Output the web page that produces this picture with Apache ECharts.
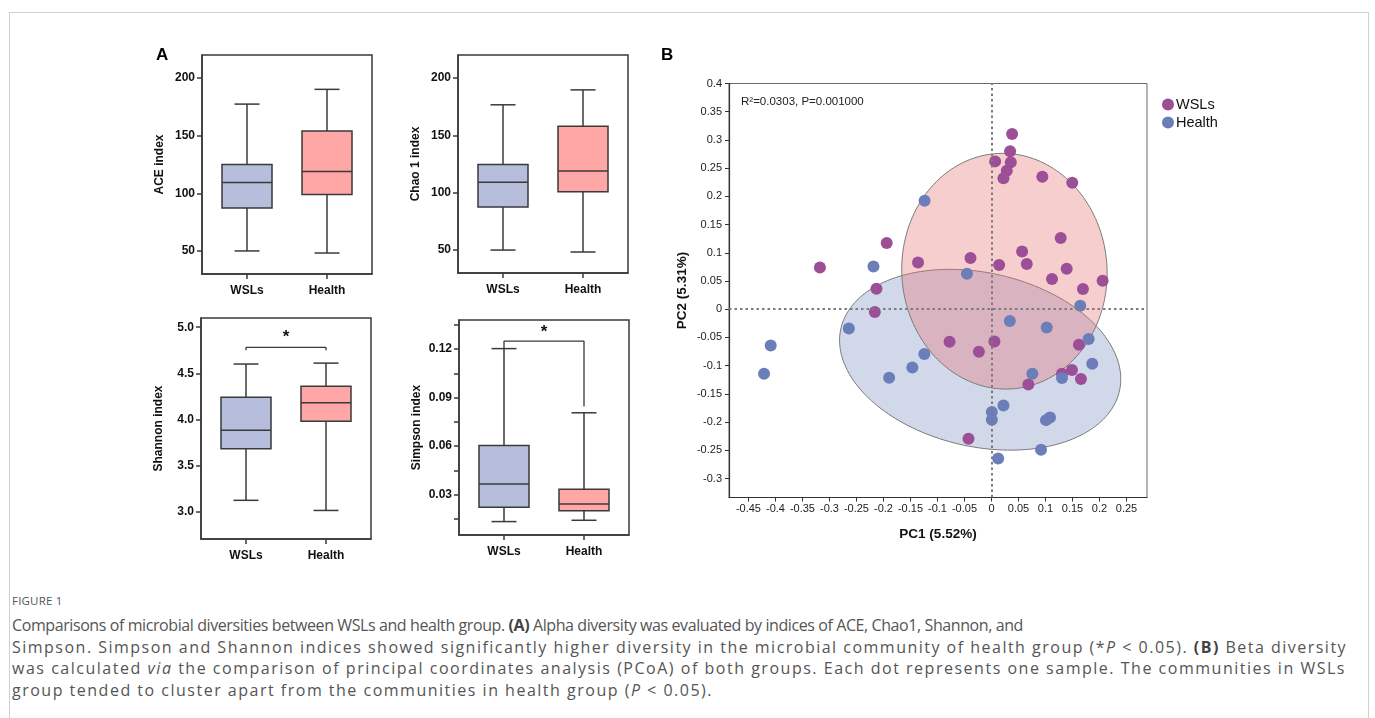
<!DOCTYPE html>
<html><head><meta charset="utf-8">
<script src="https://cdn.jsdelivr.net/npm/echarts@6/dist/echarts.min.js"></script>
<style>
html,body{margin:0;padding:0;background:#fff;width:1375px;height:718px;overflow:hidden;}
#frame{position:absolute;left:9px;top:12px;width:1360px;height:740px;border:1px solid #d0d0d0;box-sizing:border-box;}
#chart{position:absolute;left:0;top:0;width:1375px;height:585px;}
#cap{position:absolute;left:12px;top:592px;width:1360px;font-family:'Open Sans',sans-serif;color:#555;}
#cap .fig{font-size:11.5px;line-height:18px;letter-spacing:0.2px;color:#555;}
#cap .l{font-size:16px;line-height:21.7px;white-space:nowrap;width:max-content;}
#cap b{color:#444;}
</style></head>
<body>
<div id="frame"></div>
<div id="chart"></div>
<div id="cap">
<div class="fig">FIGURE 1</div>
<div style="height:5px"></div>
<div class="l">Comparisons of microbial diversities between WSLs and health group. <b>(A)</b> Alpha diversity was evaluated by indices of ACE, Chao1, Shannon, and</div>
<div class="l">Simpson. Simpson and Shannon indices showed significantly higher diversity in the microbial community of health group (*<i>P</i> &lt; 0.05). <b>(B)</b> Beta diversity</div>
<div class="l">was calculated <i>via</i> the comparison of principal coordinates analysis (PCoA) of both groups. Each dot represents one sample. The communities in WSLs</div>
<div class="l">group tended to cluster apart from the communities in health group (<i>P</i> &lt; 0.05).</div>
</div>
<script>
// ---------- DATA ----------
const groups = ['WSLs', 'Health'];
// [min, Q1, median, Q3, max]
const aceWSLs = [50, 87.3, 109.3, 125, 177.4];
const aceHealth = [48.2, 99, 119, 154, 190.2];
const chaoWSLs = [50, 87.5, 109.2, 124.6, 176.6];
const chaoHealth = [48.3, 100.9, 118.9, 157.8, 189.6];
const shannonWSLs = [3.12, 3.68, 3.88, 4.24, 4.6];
const shannonHealth = [3.01, 3.98, 4.18, 4.36, 4.61];
const simpsonWSLs = [0.0133, 0.0222, 0.0365, 0.0603, 0.1203];
const simpsonHealth = [0.0141, 0.0200, 0.0241, 0.0333, 0.0806];

const countTicks = [50, 100, 150, 200];
const shannonTicks = [3.0, 3.5, 4.0, 4.5, 5.0];
const simpsonTicks = [0.03, 0.06, 0.09, 0.12];
const simpsonMinorTicks = [0.015, 0.03, 0.045, 0.06, 0.075, 0.09, 0.105, 0.12, 0.135];

const shannonBracket = [[0, 4.75], [0, 4.78], [1, 4.78], [1, 4.75]];
const simpsonBracket = [[0, 0.1205], [0, 0.1249], [1, 0.1249], [1, 0.0845]];
const shannonStar = [0.5, 4.89];
const simpsonStar = [0.5, 0.1305];

// PCoA samples [PC1, PC2]
const wslsPoints = [
  [-0.3177, 0.0741], [-0.194, 0.1174], [-0.136, 0.083], [-0.213, 0.0363], [-0.216, -0.005],
  [0.0382, 0.3106], [0.0345, 0.2798], [0.0068, 0.262], [0.0358, 0.2603], [0.0284, 0.2456],
  [0.0222, 0.2319], [0.0942, 0.2349], [0.1496, 0.2243], [0.1282, 0.1262], [0.0567, 0.1025],
  [-0.0388, 0.0907], [0.0142, 0.0783], [0.0654, 0.0801], [0.1393, 0.0718], [0.1121, 0.0535],
  [0.2058, 0.0505], [0.1694, 0.0358], [-0.0776, -0.0576], [0.0055, -0.0571], [-0.0233, -0.0754],
  [0.162, -0.0629], [0.1306, -0.1144], [0.1491, -0.1078], [0.1657, -0.1238], [0.0683, -0.1333],
  [-0.0425, -0.2296]
];
const healthPoints = [
  [-0.1238, 0.1924], [-0.2185, 0.0759], [-0.0454, 0.0629], [0.1644, 0.0062], [0.034, -0.0209],
  [0.1023, -0.0322], [0.1799, -0.0529], [-0.1243, -0.0795], [-0.1465, -0.1031], [0.1866, -0.0966],
  [0.0757, -0.1144], [0.1306, -0.122], [0.0222, -0.1705], [0.0007, -0.1823], [0.0007, -0.1959],
  [0.1084, -0.1918], [0.101, -0.1965], [0.0918, -0.2491], [0.0124, -0.2645], [-0.2641, -0.034],
  [-0.4088, -0.0642], [-0.4211, -0.1144], [-0.1895, -0.1215]
];
// confidence ellipses: [centerX, centerY, radiusX, radiusY, rotationDeg]
const ellipseWSLs = [0.024, 0.0674, 0.19, 0.209, 5];
const ellipseHealth = [-0.0209, -0.0895, 0.2638, 0.1544, -11.5];

const pcXTicks = [-0.45, -0.4, -0.35, -0.3, -0.25, -0.2, -0.15, -0.1, -0.05, 0, 0.05, 0.1, 0.15, 0.2, 0.25];
const pcYTicks = [-0.3, -0.25, -0.2, -0.15, -0.1, -0.05, 0, 0.05, 0.1, 0.15, 0.2, 0.25, 0.3, 0.35, 0.4];
const statText = 'R\u00b2=0.0303, P=0.001000';

// ---------- STYLE ----------
const FONT = "'Liberation Sans', Arial, sans-serif";
const boxColors = ['#b6bedb', '#ffa7a7'];
const dark = '#3a3a3a';
const purple = '#9c4f97';
const blue = '#6b7eb9';

// caption line widths (layout)
const capWidths = [1011, 1335, 1334, 701];
document.querySelectorAll('#cap .l').forEach((el, i) => {
  const w = el.getBoundingClientRect().width;
  const n = el.textContent.length;
  el.style.letterSpacing = ((capWidths[i] - w) / n).toFixed(3) + 'px';
});

const chart = echarts.init(document.getElementById('chart'), null, {renderer: 'canvas'});

const boxGrids = [
  {left: 202, top: 55, width: 170, height: 219},
  {left: 458, top: 55, width: 170, height: 218},
  {left: 201, top: 318, width: 170, height: 221},
  {left: 459, top: 320, width: 170, height: 215}
];
const boxY = [
  {min: 30, max: 220, labels: countTicks, ticks: countTicks, dec: 0, name: 'ACE index'},
  {min: 30, max: 220, labels: countTicks, ticks: countTicks, dec: 0, name: 'Chao 1 index'},
  {min: 2.7, max: 5.1, labels: shannonTicks, ticks: shannonTicks, dec: 1, name: 'Shannon index'},
  {min: 0.005, max: 0.138, labels: simpsonTicks, ticks: simpsonMinorTicks, dec: 2, name: 'Simpson index'}
];
const boxData = [
  [aceWSLs, aceHealth], [chaoWSLs, chaoHealth], [shannonWSLs, shannonHealth], [simpsonWSLs, simpsonHealth]
];

const grids = boxGrids.map(g => Object.assign({show: true, borderColor: dark, borderWidth: 1.5, backgroundColor: 'transparent'}, g));
grids.push({left: 729, top: 83.5, width: 418, height: 414, show: true, borderColor: '#6a6a6a', borderWidth: 1});

const xAxes = [], yAxes = [];
boxGrids.forEach((g, i) => {
  xAxes.push({
    type: 'value', gridIndex: i, min: -0.5625, max: 1.5625,
    axisLine: {show: true, onZero: false, lineStyle: {color: dark, width: 1.5}},
    axisTick: {show: true, length: 5, customValues: [0, 1], lineStyle: {color: dark, width: 1.5}},
    axisLabel: {customValues: [0, 1], formatter: v => groups[Math.round(v)], margin: 11,
      fontFamily: FONT, fontWeight: 'bold', fontSize: 12, color: '#111'},
    splitLine: {show: false}
  });
  const yy = boxY[i];
  yAxes.push({
    type: 'value', gridIndex: i, min: yy.min, max: yy.max,
    name: yy.name, nameLocation: 'middle', nameGap: 36,
    nameTextStyle: {fontFamily: FONT, fontWeight: 'bold', fontSize: 12, color: '#111'},
    axisLine: {show: true, onZero: false, lineStyle: {color: dark, width: 1.5}},
    axisTick: {show: true, length: 5, customValues: yy.ticks, lineStyle: {color: dark, width: 1.5}},
    axisLabel: {customValues: yy.labels, formatter: v => Number(v).toFixed(yy.dec), margin: 7,
      fontFamily: FONT, fontWeight: 'bold', fontSize: 12, color: '#111'},
    splitLine: {show: false}
  });
});
const fmtPc = v => String(+Number(v).toFixed(2));
xAxes.push({
  type: 'value', gridIndex: 4, min: -0.486, max: 0.288,
  name: 'PC1 (5.52%)', nameLocation: 'middle', nameGap: 30,
  nameTextStyle: {fontFamily: FONT, fontWeight: 'bold', fontSize: 13.5, color: '#111'},
  axisLine: {show: true, onZero: false, lineStyle: {color: '#333', width: 1.2}},
  axisTick: {show: true, length: 4, customValues: pcXTicks, lineStyle: {color: '#333'}},
  axisLabel: {customValues: pcXTicks, formatter: fmtPc, margin: 6, fontFamily: FONT, fontSize: 11, color: '#222'},
  splitLine: {show: false}
});
yAxes.push({
  type: 'value', gridIndex: 4, min: -0.3336, max: 0.4,
  name: 'PC2 (5.31%)', nameLocation: 'middle', nameGap: 40,
  nameTextStyle: {fontFamily: FONT, fontWeight: 'bold', fontSize: 13.5, color: '#111'},
  axisLine: {show: true, onZero: false, lineStyle: {color: '#333', width: 1.2}},
  axisTick: {show: true, length: 4, customValues: pcYTicks, lineStyle: {color: '#333'}},
  axisLabel: {customValues: pcYTicks, formatter: fmtPc, margin: 7, fontFamily: FONT, fontSize: 11, color: '#222'},
  splitLine: {show: false}
});

function boxRender(params, api) {
  const i = api.value(0);
  const cx = api.coord([i, api.value(3)])[0];
  const yMin = api.coord([i, api.value(1)])[1];
  const yQ1 = api.coord([i, api.value(2)])[1];
  const yMed = api.coord([i, api.value(3)])[1];
  const yQ3 = api.coord([i, api.value(4)])[1];
  const yMax = api.coord([i, api.value(5)])[1];
  const hw = 25, cw = 12.5;
  const ls = {stroke: dark, lineWidth: 1.5};
  return {type: 'group', children: [
    {type: 'line', shape: {x1: cx, y1: yQ3, x2: cx, y2: yMax}, style: ls},
    {type: 'line', shape: {x1: cx, y1: yQ1, x2: cx, y2: yMin}, style: ls},
    {type: 'line', shape: {x1: cx - cw, y1: yMax, x2: cx + cw, y2: yMax}, style: ls},
    {type: 'line', shape: {x1: cx - cw, y1: yMin, x2: cx + cw, y2: yMin}, style: ls},
    {type: 'rect', shape: {x: cx - hw, y: yQ3, width: 2 * hw, height: yQ1 - yQ3}, style: {fill: boxColors[i], stroke: dark, lineWidth: 1.5}},
    {type: 'line', shape: {x1: cx - hw, y1: yMed, x2: cx + hw, y2: yMed}, style: ls}
  ]};
}
function starRender(params, api) {
  const c = api.coord([api.value(0), api.value(1)]);
  return {type: 'text', x: c[0], y: c[1], style: {text: '*', fill: '#111', font: 'bold 17px ' + FONT, align: 'center', verticalAlign: 'middle'}};
}
function ellipseRender(color) {
  return function (params, api) {
    const cx = api.value(0), cy = api.value(1), rx = api.value(2), ry = api.value(3);
    const phi = api.value(4) * Math.PI / 180;
    const pts = [];
    for (let k = 0; k < 180; k++) {
      const t = k / 180 * Math.PI * 2;
      const x = cx + rx * Math.cos(t) * Math.cos(phi) - ry * Math.sin(t) * Math.sin(phi);
      const y = cy + rx * Math.cos(t) * Math.sin(phi) + ry * Math.sin(t) * Math.cos(phi);
      pts.push(api.coord([x, y]));
    }
    return {type: 'polygon', shape: {points: pts}, style: {fill: color, stroke: '#7a7a7a', lineWidth: 1}};
  };
}

const series = [];
boxData.forEach((pair, i) => {
  series.push({type: 'custom', xAxisIndex: i, yAxisIndex: i, silent: true,
    data: pair.map((d, k) => [k].concat(d)), encode: {x: 0, y: [1, 2, 3, 4, 5]}, renderItem: boxRender});
});
series.push({type: 'line', xAxisIndex: 2, yAxisIndex: 2, data: shannonBracket, symbol: 'none', silent: true,
  lineStyle: {color: dark, width: 1.3}});
series.push({type: 'line', xAxisIndex: 3, yAxisIndex: 3, data: simpsonBracket, symbol: 'none', silent: true,
  lineStyle: {color: dark, width: 1.3}});
series.push({type: 'custom', xAxisIndex: 2, yAxisIndex: 2, data: [shannonStar], renderItem: starRender, silent: true});
series.push({type: 'custom', xAxisIndex: 3, yAxisIndex: 3, data: [simpsonStar], renderItem: starRender, silent: true});

series.push({type: 'custom', xAxisIndex: 4, yAxisIndex: 4, data: [ellipseHealth], renderItem: ellipseRender('rgba(120,140,192,0.34)'), silent: true, z: 1});
series.push({type: 'custom', xAxisIndex: 4, yAxisIndex: 4, data: [ellipseWSLs], renderItem: ellipseRender('rgba(232,112,112,0.34)'), silent: true, z: 1});
series.push({type: 'line', xAxisIndex: 4, yAxisIndex: 4, data: [], silent: true, z: 2,
  markLine: {silent: true, symbol: ['none', 'none'], label: {show: false},
    lineStyle: {type: [2.5, 3], color: '#7c7c7c', width: 2},
    data: [{xAxis: 0}, {yAxis: 0}]}});
series.push({name: 'WSLs', type: 'scatter', xAxisIndex: 4, yAxisIndex: 4, data: wslsPoints, symbolSize: 12, z: 3,
  itemStyle: {color: purple, opacity: 1}});
series.push({name: 'Health', type: 'scatter', xAxisIndex: 4, yAxisIndex: 4, data: healthPoints, symbolSize: 12, z: 3,
  itemStyle: {color: blue, opacity: 1}});

chart.setOption({
  animation: false,
  backgroundColor: 'transparent',
  grid: grids,
  xAxis: xAxes,
  yAxis: yAxes,
  legend: {data: ['WSLs', 'Health'], left: 1157, top: 92, orient: 'vertical', icon: 'circle',
    itemWidth: 12, itemHeight: 12, itemGap: 3,
    textStyle: {fontFamily: FONT, fontSize: 14.5, color: '#111', padding: [0, 0, 0, -3]}},
  graphic: [
    {type: 'text', left: 156, top: 47, style: {text: 'A', font: 'bold 17px ' + FONT, fill: '#000'}},
    {type: 'text', left: 661, top: 47, style: {text: 'B', font: 'bold 17px ' + FONT, fill: '#000'}},
    {type: 'text', left: 741, top: 96, style: {text: statText, font: '11.5px ' + FONT, fill: '#222'}}
  ],
  series: series
});
</script>
</body></html>
